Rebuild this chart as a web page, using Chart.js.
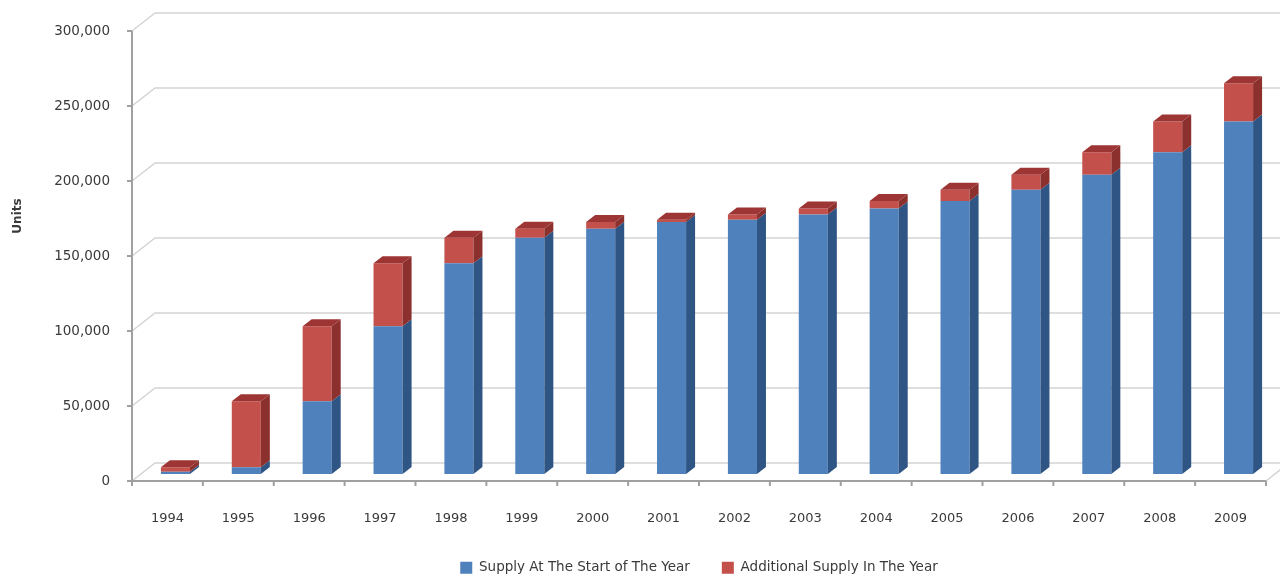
<!DOCTYPE html>
<html>
<head>
<meta charset="utf-8">
<script src="https://cdn.jsdelivr.net/npm/chart.js@4"></script>
<style>
  html, body { margin: 0; padding: 0; background: #fff; }
  #wrap { width: 1280px; height: 577px; }
</style>
</head>
<body>
<div id="wrap"><canvas id="chart" width="1280" height="577"></canvas></div>
<script>
const years = ['1994', '1995', '1996', '1997', '1998', '1999', '2000', '2001',
               '2002', '2003', '2004', '2005', '2006', '2007', '2008', '2009'];
const startSupply = [1500, 4500, 48500, 98500, 140500, 157500, 163500, 168000,
                     169500, 173000, 177000, 182000, 189500, 199500, 214500, 235000];
const addedSupply = [3000, 44000, 50000, 42000, 17000, 6000, 4500, 1500,
                     3500, 4000, 5000, 7500, 10000, 15000, 20500, 25500];
const yTicks = [0, 50000, 100000, 150000, 200000, 250000, 300000];

const FONT = '"DejaVu Sans", Verdana, sans-serif';
const TEXT = '#3a3a3a';

// depth of the walls/floor, and where the bars sit inside that depth
const DEPTH_X = 23, DEPTH_Y = 18;
const SHIFT_X = 8, SHIFT_Y = 7;
const BAR_DX = 9, BAR_DY = 7;

function poly(ctx, pts, fill) {
  ctx.beginPath();
  ctx.moveTo(pts[0][0], pts[0][1]);
  for (let i = 1; i < pts.length; i++) ctx.lineTo(pts[i][0], pts[i][1]);
  ctx.closePath();
  ctx.fillStyle = fill;
  ctx.fill();
}

const frame3d = {
  id: 'frame3d',
  beforeDatasetsDraw(chart) {
    const { ctx, chartArea: a, scales: { y } } = chart;
    ctx.save();
    // back wall gridlines with their slanted side-wall part
    ctx.lineWidth = 1.5;
    ctx.strokeStyle = '#d4d4d4';
    ctx.beginPath();
    yTicks.forEach(v => {
      const py = y.getPixelForValue(v);
      ctx.moveTo(a.left, py);
      ctx.lineTo(a.left + DEPTH_X, py - DEPTH_Y);
      ctx.lineTo(chart.width, py - DEPTH_Y);
    });
    ctx.moveTo(a.right, a.bottom);
    ctx.lineTo(a.right + DEPTH_X, a.bottom - DEPTH_Y);
    ctx.stroke();

    // front axes and tick marks
    ctx.lineWidth = 2;
    ctx.strokeStyle = '#a0a0a0';
    ctx.beginPath();
    ctx.moveTo(a.left, a.top);
    ctx.lineTo(a.left, a.bottom + 5);
    ctx.moveTo(a.left - 5, a.bottom);
    ctx.lineTo(a.right, a.bottom);
    yTicks.forEach(v => {
      const py = y.getPixelForValue(v);
      ctx.moveTo(a.left - 5, py);
      ctx.lineTo(a.left, py);
    });
    const step = (a.right - a.left) / years.length;
    for (let i = 1; i <= years.length; i++) {
      const px = a.left + i * step;
      ctx.moveTo(px, a.bottom);
      ctx.lineTo(px, a.bottom + 5);
    }
    ctx.stroke();
    ctx.restore();

    // bars are drawn a little behind the front edge
    ctx.save();
    ctx.translate(SHIFT_X, -SHIFT_Y);
  },
  afterDatasetsDraw(chart) {
    const ctx = chart.ctx;
    const sets = chart.data.datasets;
    years.forEach((_, i) => {
      sets.forEach((ds, d) => {
        const bar = chart.getDatasetMeta(d).data[i];
        const { x, y, base, width } = bar.getProps(['x', 'y', 'base', 'width'], true);
        const l = x - width / 2, r = x + width / 2;
        const top = Math.min(y, base), bot = Math.max(y, base);
        poly(ctx, [[r, bot], [r, top], [r + BAR_DX, top - BAR_DY], [r + BAR_DX, bot - BAR_DY]], ds.sideColor);
        if (d === sets.length - 1) {
          poly(ctx, [[l, top], [l + BAR_DX, top - BAR_DY], [r + BAR_DX, top - BAR_DY], [r, top]], ds.topColor);
        }
      });
    });
    ctx.restore();
  },
  afterDraw(chart) {
    const ctx = chart.ctx;
    ctx.save();
    ctx.translate(18, 216);
    ctx.rotate(-Math.PI / 2);
    ctx.font = 'bold 12px ' + FONT;
    ctx.fillStyle = TEXT;
    ctx.textAlign = 'center';
    ctx.textBaseline = 'middle';
    ctx.fillText('Units', 0, 0);
    ctx.restore();
  }
};

new Chart(document.getElementById('chart'), {
  type: 'bar',
  data: {
    labels: years,
    datasets: [{
      label: 'Supply At The Start of The Year',
      data: startSupply,
      backgroundColor: '#4f81bd',
      sideColor: '#2f5585',
      topColor: '#6a96cc',
      borderWidth: 0
    }, {
      label: 'Additional Supply In The Year',
      data: addedSupply,
      backgroundColor: '#c4504c',
      sideColor: '#8c302e',
      topColor: '#9c3533',
      borderWidth: 0
    }]
  },
  options: {
    responsive: false,
    devicePixelRatio: 1,
    animation: false,
    events: [],
    layout: { padding: { top: 31, right: 14, bottom: -7.5, left: 0 } },
    datasets: { bar: { barPercentage: 0.41, categoryPercentage: 1 } },
    scales: {
      x: {
        stacked: true,
        grid: { display: false, drawTicks: false },
        border: { display: false },
        ticks: { padding: 30, color: TEXT, font: { family: FONT, size: 13 } },
        afterFit(scale) { scale.height = 48; }
      },
      y: {
        stacked: true,
        min: 0,
        max: 300000,
        grid: { display: false, drawTicks: false },
        border: { display: false },
        ticks: {
          stepSize: 50000,
          padding: 22,
          color: TEXT,
          font: { family: FONT, size: 13.5 },
          callback: v => v.toLocaleString('en-US')
        },
        afterFit(scale) { scale.width = 132; }
      }
    },
    plugins: {
      legend: {
        position: 'bottom',
        fullSize: false,
        labels: {
          boxWidth: 12,
          boxHeight: 12,
          padding: 32,
          color: TEXT,
          font: { family: FONT, size: 13.5 }
        }
      },
      tooltip: { enabled: false }
    }
  },
  plugins: [frame3d]
});
</script>
</body>
</html>
